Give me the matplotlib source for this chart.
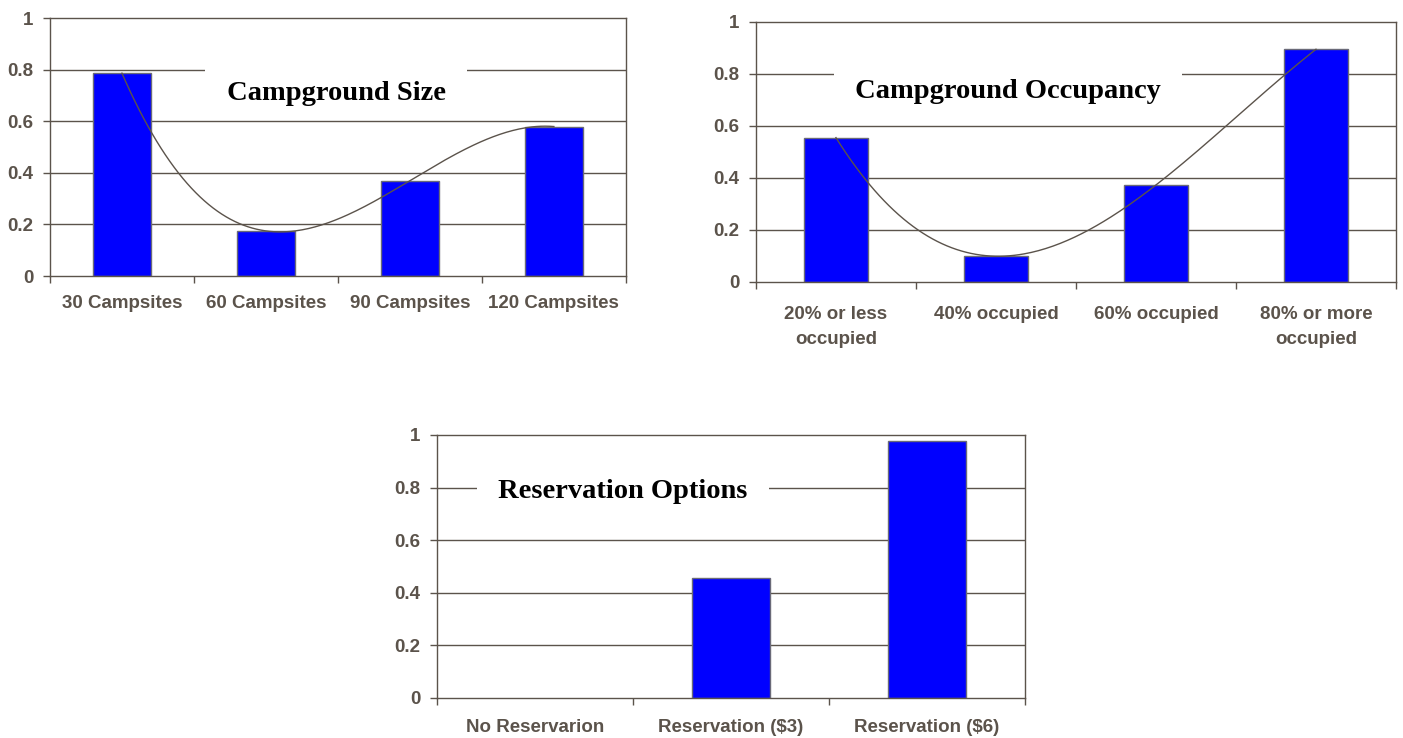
import matplotlib
matplotlib.use("Agg")
import matplotlib.pyplot as plt
import numpy as np

# values per attribute level
size_labels = ['30 Campsites', '60 Campsites', '90 Campsites', '120 Campsites']
size_vals = [0.787, 0.175, 0.370, 0.580]

occ_labels = ['20% or less\noccupied', '40% occupied', '60% occupied', '80% or more\noccupied']
occ_vals = [0.554, 0.098, 0.372, 0.894]

res_labels = ['No Reservarion', 'Reservation ($3)', 'Reservation ($6)']
res_vals = [0.0, 0.457, 0.978]

grey = '#5b534b'
blue = '#0000ff'


def panel(ax, labels, vals, title, tx, ty, trend, xpad):
    n = len(vals)
    x = np.arange(n)
    for y in [0.2, 0.4, 0.6, 0.8]:
        ax.axhline(y, color=grey, lw=1.0, zorder=1)
    edges = ['#6a6a78' if v > 0 else 'none' for v in vals]
    ax.bar(x, vals, width=0.4, color=blue, edgecolor=edges, lw=1.0, zorder=2)
    if trend:
        # 3rd order polynomial trendline
        coef = np.polyfit(x, vals, 3)
        xx = np.linspace(0, n - 1, 200)
        ax.plot(xx, np.polyval(coef, xx), color=grey, lw=1.0, zorder=3)
    ax.set_xlim(-0.5, n - 0.5)
    ax.set_ylim(0, 1)
    ax.set_yticks([0, 0.2, 0.4, 0.6, 0.8, 1])
    ax.set_yticklabels(['0', '0.2', '0.4', '0.6', '0.8', '1'])
    ax.set_xticks(x)
    ax.set_xticklabels(labels, linespacing=1.65)
    ax.set_xticks([i - 0.5 for i in range(n + 1)], minor=True)
    ax.tick_params(axis='x', which='major', length=0, pad=xpad, labelsize=13.5,
                   labelcolor=grey)
    ax.tick_params(axis='x', which='minor', length=5, width=1, color=grey, direction='out')
    ax.tick_params(axis='y', length=5, width=1, color=grey, direction='out', pad=7,
                   labelsize=13.5, labelcolor=grey)
    for lab in ax.get_xticklabels() + ax.get_yticklabels():
        lab.set_fontweight('bold')
    for s in ax.spines.values():
        s.set_color(grey)
        s.set_linewidth(1.0)
    ax.text(tx, ty, ' ' + title + ' ', transform=ax.transAxes,
            ha='center', va='center', fontsize=20.5, fontweight='bold',
            family='Liberation Serif', color='black', zorder=4,
            bbox=dict(boxstyle='square,pad=0.5', fc='white', ec='none'))


plt.rcParams['font.family'] = ['Liberation Sans', 'DejaVu Sans']

fig = plt.figure(figsize=(14.03, 7.38), dpi=100)
ax1 = fig.add_axes([0.0356, 0.626, 0.4105, 0.3492])
ax2 = fig.add_axes([0.5388, 0.6183, 0.4562, 0.3523])
ax3 = fig.add_axes([0.3115, 0.0546, 0.4191, 0.356])

panel(ax1, size_labels, size_vals, 'Campground Size', 0.497, 0.71, True, 14)
panel(ax2, occ_labels, occ_vals, 'Campground Occupancy', 0.394, 0.73, True, 17.5)
panel(ax3, res_labels, res_vals, 'Reservation Options', 0.316, 0.786, False, 15)

fig.savefig('out.png', dpi=100, facecolor='white')
